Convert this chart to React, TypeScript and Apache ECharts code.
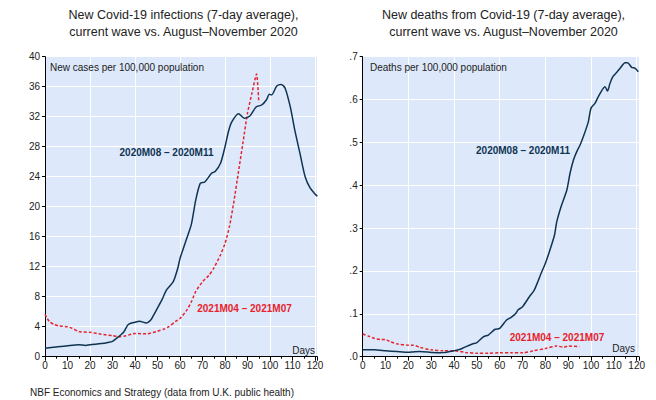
import React, { useEffect, useRef } from "react";
import * as echarts from "echarts";

// Days since start of wave (x) and values (y)
const casesWave2020: [number, number][] = [
  [0, 1.12], [5, 1.3], [10, 1.47], [15, 1.6], [18, 1.5], [20, 1.6], [25, 1.75], [28, 1.9],
  [30, 2.05], [32, 2.5], [35, 3.3], [37, 4.3], [40, 4.6], [42, 4.73], [45, 4.5], [47, 4.9],
  [48, 5.4], [50, 6.5], [52, 7.6], [54, 8.9], [57, 10.0], [59, 11.8], [60, 13.1], [63, 15.8],
  [65, 17.6], [67, 20.9], [69, 23.1], [71, 23.3], [74, 24.45], [75.6, 24.7], [78, 25.8],
  [80, 28.0], [81.5, 30.0], [83, 31.3], [86, 32.4], [88.6, 31.8], [91, 32.1], [93.8, 33.3],
  [96.3, 33.56], [98.5, 34.3], [99.7, 35.0], [100.7, 34.9], [103, 36.1], [105, 36.3],
  [106.7, 35.8], [109, 33.3], [111, 30.2], [113.3, 27.1], [115.6, 24.0], [117.8, 22.5],
  [120, 21.7], [121, 21.4],
];

const casesWave2021: [number, number][] = [
  [0, 5.65], [1, 5.1], [2, 4.67], [4, 4.3], [6, 4.1], [10, 4.0], [12, 3.8], [15, 3.35],
  [20, 3.25], [25, 3.0], [30, 2.8], [33, 2.67], [36, 2.8], [40, 3.1], [45, 3.05], [50, 3.4],
  [53, 3.7], [55, 4.0], [58, 4.7], [60, 5.1], [63, 6.2], [65, 7.3], [67, 8.7], [70, 10.0],
  [73, 10.9], [75, 11.8], [78, 13.6], [80, 15.1], [82, 17.4], [84, 20.8], [86, 24.7],
  [88, 28.6], [90, 32.5], [92, 35.2], [94, 37.7], [95, 33.9],
];

const deathsWave2020: [number, number][] = [
  [0, 0.0163], [5, 0.016], [10, 0.014], [15, 0.012], [20, 0.0102], [22, 0.011], [25, 0.012],
  [30, 0.01], [33, 0.009], [35, 0.0095], [38, 0.012], [40, 0.014], [43, 0.018], [45, 0.023],
  [48, 0.0296], [50, 0.033], [53, 0.047], [55, 0.0506], [58, 0.064], [60, 0.066],
  [63, 0.0856], [65, 0.092], [67, 0.101], [68, 0.109], [70, 0.1167], [73, 0.14], [75, 0.154],
  [77, 0.179], [78, 0.193], [80, 0.218], [82, 0.249], [84, 0.284], [85, 0.315], [87, 0.352],
  [89.4, 0.389], [90.8, 0.428], [92.3, 0.459], [93.7, 0.478], [95.2, 0.494], [96.6, 0.513],
  [98.8, 0.548], [100, 0.58], [101.7, 0.591], [103.2, 0.607], [106.1, 0.63], [107.2, 0.62],
  [108.3, 0.638], [109.5, 0.653], [111.2, 0.663], [113, 0.675], [114.9, 0.686], [116, 0.686],
  [117.8, 0.675], [119.3, 0.673], [120.7, 0.665],
];

const deathsWave2021: [number, number][] = [
  [0, 0.053], [3, 0.047], [5, 0.043], [8, 0.04], [10, 0.04], [12, 0.035], [15, 0.03],
  [20, 0.027], [22, 0.027], [25, 0.022], [30, 0.016], [35, 0.014], [40, 0.014], [45, 0.01],
  [50, 0.008], [55, 0.008], [60, 0.009], [65, 0.009], [70, 0.009], [75, 0.014], [80, 0.019],
  [85, 0.025], [88, 0.022], [90, 0.025], [95, 0.023],
];

const leftTitle = ["New Covid-19 infections (7-day average),", "current wave vs. August\u2013November 2020"];
const rightTitle = ["New deaths from Covid-19 (7-day average),", "current wave vs. August\u2013November 2020"];
const label2020 = "2020M08 \u2013 2020M11";
const label2021 = "2021M04 \u2013 2021M07";
const footer = "NBF Economics and Strategy (data from U.K. public health)";

const FONT = "'Liberation Sans', Arial, sans-serif";
const NAVY = "#0f3452";
const RED = "#e8222b";
const BG = "#dde9fb";
const TXT = "#222";

function mainX(gridIndex: number) {
  return {
    type: "value",
    gridIndex,
    min: 0,
    max: 121,
    interval: 10,
    position: "bottom",
    axisLine: { show: true, onZero: false, lineStyle: { color: "#000", width: 1 } },
    axisTick: { show: true, length: 4, lineStyle: { color: "#000" } },
    minorTick: { show: true, splitNumber: 2, length: 2, lineStyle: { color: "#000" } },
    splitLine: { show: false },
    axisLabel: {
      fontSize: 10,
      color: TXT,
      fontFamily: FONT,
      margin: 4,
      showMaxLabel: false,
      formatter: (v: number) => (Math.abs(v % 10) < 1e-9 ? String(v) : ""),
    },
  };
}

function gridX(gridIndex: number) {
  return {
    type: "value",
    gridIndex,
    min: 0,
    max: 121,
    interval: 20,
    position: "bottom",
    axisLine: { show: false },
    axisTick: { show: false },
    axisLabel: { show: false },
    splitLine: { show: true, lineStyle: { color: "#ffffff", width: 1 } },
  };
}

function text(x: number, y: number, str: string, opts: any = {}) {
  return {
    type: "text",
    x,
    y,
    z: 100,
    style: {
      text: str,
      fill: opts.fill || TXT,
      font: `${opts.weight || "normal"} ${opts.size || 10}px ${FONT}`,
      align: opts.align || "left",
      verticalAlign: "middle",
    },
  };
}

export default function App() {
  const ref = useRef<HTMLDivElement>(null);
  useEffect(() => {
    document.body.style.margin = "0";
    const chart = echarts.init(ref.current!, null, { renderer: "svg" });
    const option: any = {
      animation: false,
      backgroundColor: "#ffffff",
      grid: [
        { left: 45, top: 56.7, width: 272.3, height: 300, show: true, backgroundColor: BG, borderWidth: 0, containLabel: false },
        { left: 362.7, top: 56.7, width: 276.3, height: 300, show: true, backgroundColor: BG, borderWidth: 0, containLabel: false },
      ],
      xAxis: [mainX(0), gridX(0), mainX(1), gridX(1)],
      yAxis: [
        {
          type: "value",
          gridIndex: 0,
          min: 0,
          max: 40,
          interval: 4,
          axisLine: { show: true, lineStyle: { color: "#000" } },
          axisTick: { show: true, length: 3, lineStyle: { color: "#000" } },
          splitLine: { show: true, lineStyle: { color: "#ffffff", width: 1 } },
          axisLabel: { fontSize: 10, color: TXT, fontFamily: FONT, margin: 5 },
        },
        {
          type: "value",
          gridIndex: 1,
          min: 0,
          max: 0.7,
          interval: 0.1,
          axisLine: { show: true, lineStyle: { color: "#000" } },
          axisTick: { show: true, length: 3, lineStyle: { color: "#000" } },
          splitLine: { show: true, lineStyle: { color: "#ffffff", width: 1 } },
          axisLabel: {
            fontSize: 10,
            color: TXT,
            fontFamily: FONT,
            margin: 5,
            formatter: (v: number) => v.toFixed(1).replace(/^0/, ""),
          },
        },
      ],
      series: [
        {
          type: "line", xAxisIndex: 0, yAxisIndex: 0, data: casesWave2021, showSymbol: false, smooth: 0.2,
          lineStyle: { color: RED, width: 1.5, type: [3, 2] }, z: 3,
        },
        {
          type: "line", xAxisIndex: 0, yAxisIndex: 0, data: casesWave2020, showSymbol: false, smooth: 0.25,
          lineStyle: { color: NAVY, width: 1.5 }, z: 4,
        },
        {
          type: "line", xAxisIndex: 2, yAxisIndex: 1, data: deathsWave2021, showSymbol: false, smooth: 0.25,
          lineStyle: { color: RED, width: 1.5, type: [3, 2] }, z: 3,
        },
        {
          type: "line", xAxisIndex: 2, yAxisIndex: 1, data: deathsWave2020, showSymbol: false, smooth: 0.25,
          lineStyle: { color: NAVY, width: 1.5 }, z: 4,
        },
      ],
      graphic: [
        text(183.5, 15, leftTitle[0], { size: 12.5, align: "center" }),
        text(183.5, 32.3, leftTitle[1], { size: 12.5, align: "center" }),
        text(503.5, 15, rightTitle[0], { size: 12.5, align: "center" }),
        text(503.5, 32.3, rightTitle[1], { size: 12.5, align: "center" }),
        text(50, 67.3, "New cases per 100,000 population"),
        text(370, 67.3, "Deaths per 100,000 population"),
        text(166.5, 152, label2020, { weight: "bold", fill: NAVY, align: "center" }),
        text(244.5, 308, label2021, { weight: "bold", fill: RED, align: "center" }),
        text(315, 350.7, "Days", { align: "right" }),
        text(523, 150.7, label2020, { weight: "bold", fill: NAVY, align: "center" }),
        text(557, 337.3, label2021, { weight: "bold", fill: RED, align: "center" }),
        text(635, 348.3, "Days", { align: "right" }),
        text(30, 392.7, footer, { size: 10 }),
      ],
    };
    chart.setOption(option);
    return () => chart.dispose();
  }, []);
  return <div ref={ref} style={{ width: 656, height: 400 }} />;
}
